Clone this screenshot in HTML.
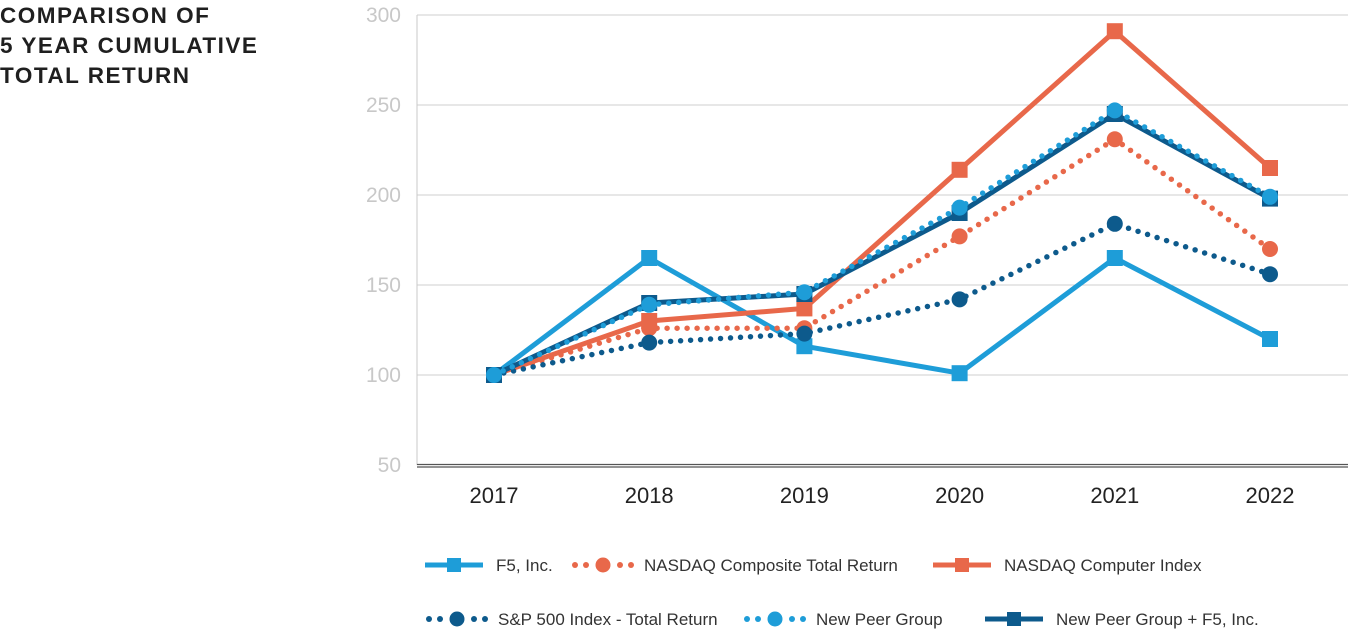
<!DOCTYPE html>
<html><head><meta charset="utf-8"><style>
body{margin:0;width:1348px;height:632px;background:#fff;overflow:hidden;font-family:"Liberation Sans",sans-serif}
#title{position:absolute;left:0;top:1px;font-weight:bold;font-size:22.5px;line-height:30px;color:#1f1f1f;letter-spacing:1.5px}
</style></head><body>
<div id="title">COMPARISON OF<br>5 YEAR CUMULATIVE<br>TOTAL RETURN</div>
<svg id="chart" width="1348" height="632" style="position:absolute;left:0;top:0"></svg>
<script>
const years=["2017","2018","2019","2020","2021","2022"];
const yTicks=[50,100,150,200,250,300];
const f5=[100,165,116,101,165,120];
const nasdaqComp=[100,126,126,177,231,170];
const nasdaqComputer=[100,130,137,214,291,215];
const sp500=[100,118,123,142,184,156];
const newPeer=[100,139,146,193,247,199];
const peerF5=[100,140,145,190,245,198];
const labels=["F5, Inc.","NASDAQ Composite Total Return","NASDAQ Computer Index","S&P 500 Index - Total Return","New Peer Group","New Peer Group + F5, Inc."];

const NS="http://www.w3.org/2000/svg";
const svg=document.getElementById('chart');
const X=i=>494+i*155.2;
const Y=v=>465-(v-50)*1.8;
function mk(t,a,p){const e=document.createElementNS(NS,t);for(const k in a)e.setAttribute(k,a[k]);(p||svg).appendChild(e);return e;}
yTicks.forEach(v=>{
  if(v>50){const g=mk('line',{x1:417,x2:1348,y1:Y(v),y2:Y(v),stroke:'#cfcfcf','stroke-width':1});
  
  }
  const t=mk('text',{x:401,y:Y(v)+7,'text-anchor':'end','font-size':21,fill:'#c8c8c8','font-family':'Liberation Sans, sans-serif'});
  t.textContent=v;
  
  
});
const ax=mk('line',{x1:417,x2:417,y1:15,y2:465,stroke:'#c8c8c8','stroke-width':1});


const xa=mk('path',{d:'M417 464.5H1348M417 467H1348',stroke:'#555','stroke-width':1.2,fill:'none'});


years.forEach((y,i)=>{const t=mk('text',{x:X(i),y:503,'text-anchor':'middle','font-size':22,fill:'#222','font-family':'Liberation Sans, sans-serif'});
t.textContent=y;

});

const LB='#1e9dd8',OR='#e8684a',DB='#0d5a8c';
const series=[
 {d:f5,c:LB,dash:false,m:'sq'},
 {d:nasdaqComp,c:OR,dash:true,m:'ci'},
 {d:nasdaqComputer,c:OR,dash:false,m:'sq'},
 {d:sp500,c:DB,dash:true,m:'ci'},
 {d:peerF5,c:DB,dash:false,m:'sq'},
 {d:newPeer,c:LB,dash:true,m:'ci'}
];
const names=['f5','nasdaq-composite','nasdaq-computer','sp500','new-peer-f5','new-peer'];
function marker(g,m,x,y,c,s){
  if(m==='sq')mk('rect',{x:x-s,y:y-s,width:2*s,height:2*s,fill:c},g);
  else mk('circle',{cx:x,cy:y,r:s,fill:c},g);
}
series.forEach((s,k)=>{
  const g=mk('g',{});
  
  
  const pts=s.d.map((v,i)=>X(i)+','+Y(v)).join(' ');
  mk('polyline',{points:pts,fill:'none',stroke:s.c,'stroke-width':s.dash?5.5:5,'stroke-dasharray':s.dash?'0 10':'none','stroke-linecap':'round','stroke-linejoin':'round'},g);
  s.d.forEach((v,i)=>marker(g,s.m,X(i),Y(v),s.c,8));
});
// legend
const leg=[[0,425,565],[1,573,565],[2,933,565],[3,427,619],[4,745,619],[5,985,619]];
const legSeries=[series[0],series[1],series[2],series[3],series[5],series[4]];
leg.forEach(([i,x,y])=>{
  const s=legSeries[i];
  const g=mk('g',{});
  
  
  if(s.dash){[0,11,45,56].forEach(o=>mk('circle',{cx:x+2+o,cy:y,r:3,fill:s.c},g));mk('circle',{cx:x+30,cy:y,r:7.5,fill:s.c},g);}
  else{mk('rect',{x:x,y:y-2.5,width:58,height:5,fill:s.c},g);mk('rect',{x:x+22,y:y-7,width:14,height:14,fill:s.c},g);}
  const t=mk('text',{x:x+71,y:y+6,'font-size':17,fill:'#333','font-family':'Liberation Sans, sans-serif'},g);
  t.textContent=labels[i];
});
</script>
</body></html>
